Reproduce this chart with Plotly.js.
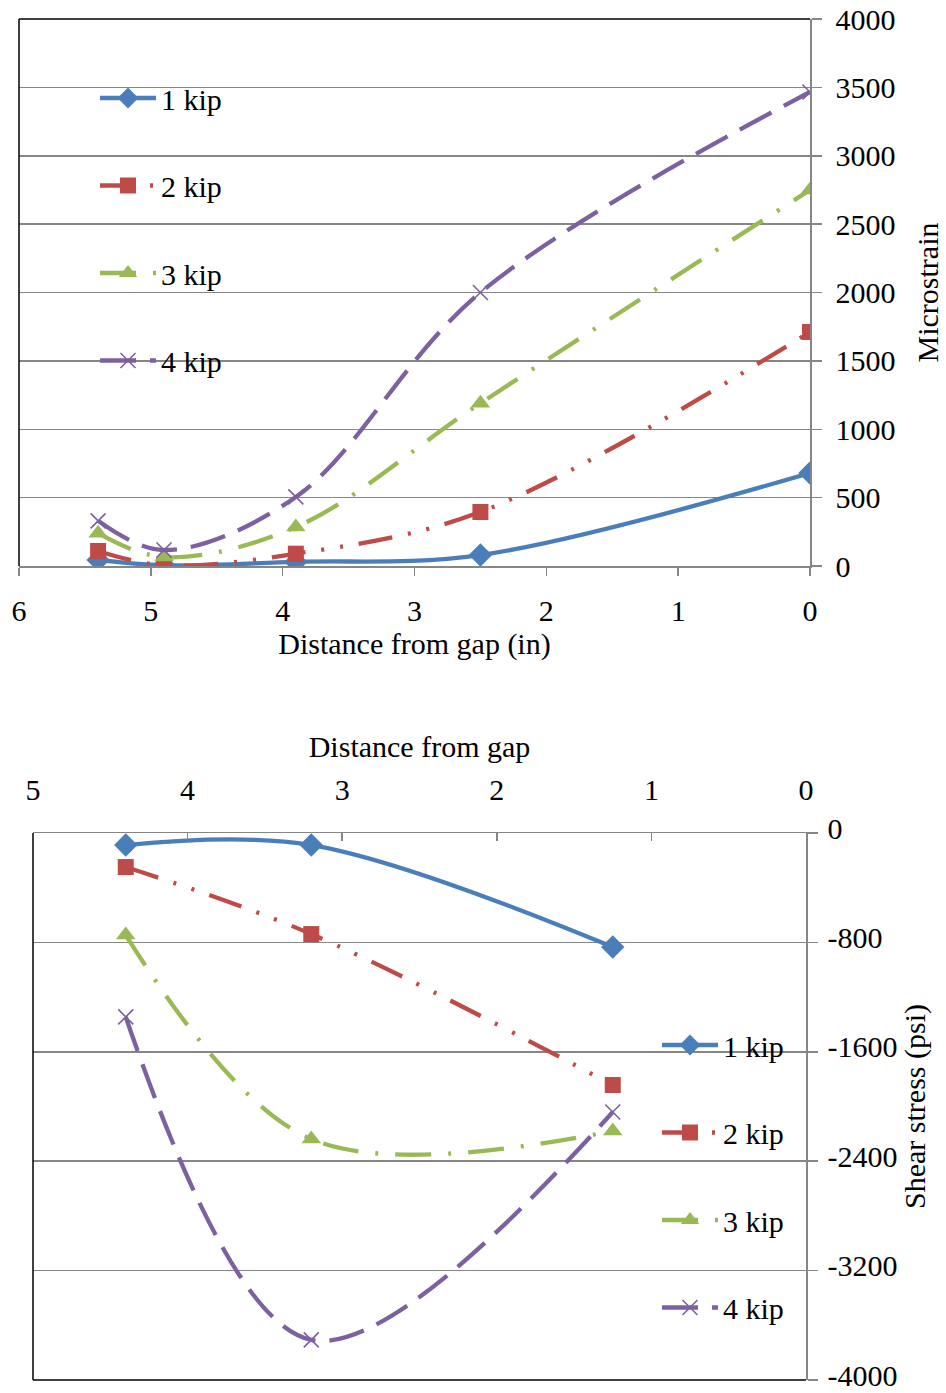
<!DOCTYPE html>
<html><head><meta charset="utf-8">
<script src="https://cdn.plot.ly/plotly-3.0.1.min.js"></script>
<style>html,body{margin:0;padding:0;background:#fff}#c{width:946px;height:1393px}</style>
</head><body><div id="c"></div>
<script>
// ---- Data ----
const seriesNames = ['1 kip', '2 kip', '3 kip', '4 kip'];
// Top chart: Microstrain vs distance from gap (in)
const topX = [5.4, 4.9, 3.9, 2.5, 0];
const top1kip = [44, 5, 30, 80, 680];
const top2kip = [110, 5, 90, 395, 1711];
const top3kip = [240, 65, 285, 1190, 2750];
const top4kip = [330, 117, 505, 2000, 3466];
// Bottom chart: Shear stress (psi) vs distance from gap
const botX = [4.4, 3.2, 1.25];
const bot1kip = [-88, -88, -834];
const bot2kip = [-249, -739, -1843];
const bot3kip = [-746, -2238, -2179];
const bot4kip = [-1345, -3707, -2040];
// Bottom y-axis tick labels (hyphen minus as in the original)
const botYTicks = [0, -800, -1600, -2400, -3200, -4000];
const botYTickText = ['0', '-800', '-1600', '-2400', '-3200', '-4000'];

const colors = ['#4A7EBB', '#BE4B48', '#98B954', '#7D60A0'];
const dashes = ['solid', '34px,16px,3px,16px,3px,16px', '36px,17px,3px,17px', '36px,14px'];
const symbols = ['diamond', 'square', 'triangle-up', 'x-thin-open'];
const sizes = [18, 16, 17, 15];
const FONT = 'Liberation Serif, Times New Roman, serif';
const W = 946, H = 1393;

function mk(x, y, i, xa, ya, leg) {
  return {
    x: x, y: y, name: seriesNames[i], type: 'scatter', mode: 'lines+markers',
    xaxis: xa, yaxis: ya, legend: leg, legendgroup: leg + i,
    line: {color: colors[i], width: 4.3, dash: dashes[i], shape: 'spline', smoothing: 1},
    marker: {symbol: symbols[i], size: sizes[i], color: colors[i],
             line: {color: colors[i], width: i === 3 ? 1.6 : 0}}
  };
}
const topYs = [top1kip, top2kip, top3kip, top4kip];
const botYs = [bot1kip, bot2kip, bot3kip, bot4kip];
const data = [];
topYs.forEach((y, i) => data.push(mk(topX, y, i, 'x', 'y', 'legend')));
botYs.forEach((y, i) => data.push(mk(botX, y, i, 'x2', 'y2', 'legend2')));

const gray = '#868686';
const tf = {family: FONT, size: 30, color: '#000'};
const layout = {
  width: W, height: H, margin: {l: 0, r: 0, t: 0, b: 0},
  paper_bgcolor: '#fff', plot_bgcolor: '#fff', font: tf, showlegend: true,
  xaxis: {domain: [19 / W, 810 / W], anchor: 'y', range: [6, 0], dtick: 1,
    showgrid: false, zeroline: false, showline: true, linecolor: gray, linewidth: 1.5,
    ticks: 'outside', ticklen: 8, tickcolor: gray, tickwidth: 1.5, tickfont: tf,
    ticklabelstandoff: 9, ticklabeloverflow: 'allow',
    title: {text: 'Distance from gap (in)', font: tf, standoff: 5}},
  yaxis: {domain: [1 - 566 / H, 1 - 19 / H], anchor: 'x', side: 'right', range: [0, 4000], dtick: 500,
    showgrid: true, gridcolor: gray, gridwidth: 1.5, zeroline: false, showline: true, linecolor: gray, linewidth: 1.5,
    ticks: 'outside', ticklen: 10, tickcolor: gray, tickwidth: 1.5, tickfont: tf, ticklabelstandoff: 8,
    ticklabeloverflow: 'allow',
    title: {text: 'Microstrain', font: tf, standoff: 22}},
  xaxis2: {domain: [33 / W, 806 / W], anchor: 'y2', side: 'top', range: [5, 0], dtick: 1,
    showgrid: false, zeroline: false, showline: true, linecolor: gray, linewidth: 1.5,
    ticks: 'inside', ticklen: 8, tickcolor: gray, tickwidth: 1.5, tickfont: tf,
    ticklabelstandoff: 20, ticklabeloverflow: 'allow',
    title: {text: 'Distance from gap', font: tf, standoff: 6}},
  yaxis2: {domain: [1 - 1380 / H, 1 - 833 / H], anchor: 'x2', side: 'right', range: [-4000, 0],
    tickmode: 'array', tickvals: botYTicks, ticktext: botYTickText,
    showgrid: true, gridcolor: gray, gridwidth: 1.5, zeroline: false, showline: true, linecolor: gray, linewidth: 1.5,
    ticks: 'outside', ticklen: 10, tickcolor: gray, tickwidth: 1.5, tickfont: tf, ticklabelstandoff: 4,
    ticklabelshift: -5, ticklabeloverflow: 'allow',
    title: {text: 'Shear stress (psi)', font: tf, standoff: 5}},
  legend: {x: 95 / W, xanchor: 'left', y: 1 - 72 / H, yanchor: 'top', bgcolor: 'rgba(0,0,0,0)',
    font: tf, traceorder: 'grouped', tracegroupgap: 45.5, itemwidth: 56, itemclick: false},
  legend2: {x: 657 / W, xanchor: 'left', y: 1 - 1019 / H, yanchor: 'top', bgcolor: 'rgba(0,0,0,0)',
    font: tf, traceorder: 'grouped', tracegroupgap: 45.5, itemwidth: 56, itemclick: false},
  shapes: [
    {type: 'line', xref: 'x domain', yref: 'y domain', x0: 0, x1: 1, y0: 1, y1: 1, line: {color: '#000', width: 1.5}},
    {type: 'line', xref: 'x domain', yref: 'y domain', x0: 0, x1: 0, y0: 0, y1: 1, line: {color: '#000', width: 1.5}},
    {type: 'line', xref: 'x2 domain', yref: 'y2 domain', x0: 0, x1: 1, y0: 0, y1: 0, line: {color: '#000', width: 1.5}},
    {type: 'line', xref: 'x2 domain', yref: 'y2 domain', x0: 0, x1: 0, y0: 0, y1: 1, line: {color: '#000', width: 1.5}}
  ]
};
Plotly.newPlot('c', data, layout, {displayModeBar: false, staticPlot: true});
</script></body></html>
